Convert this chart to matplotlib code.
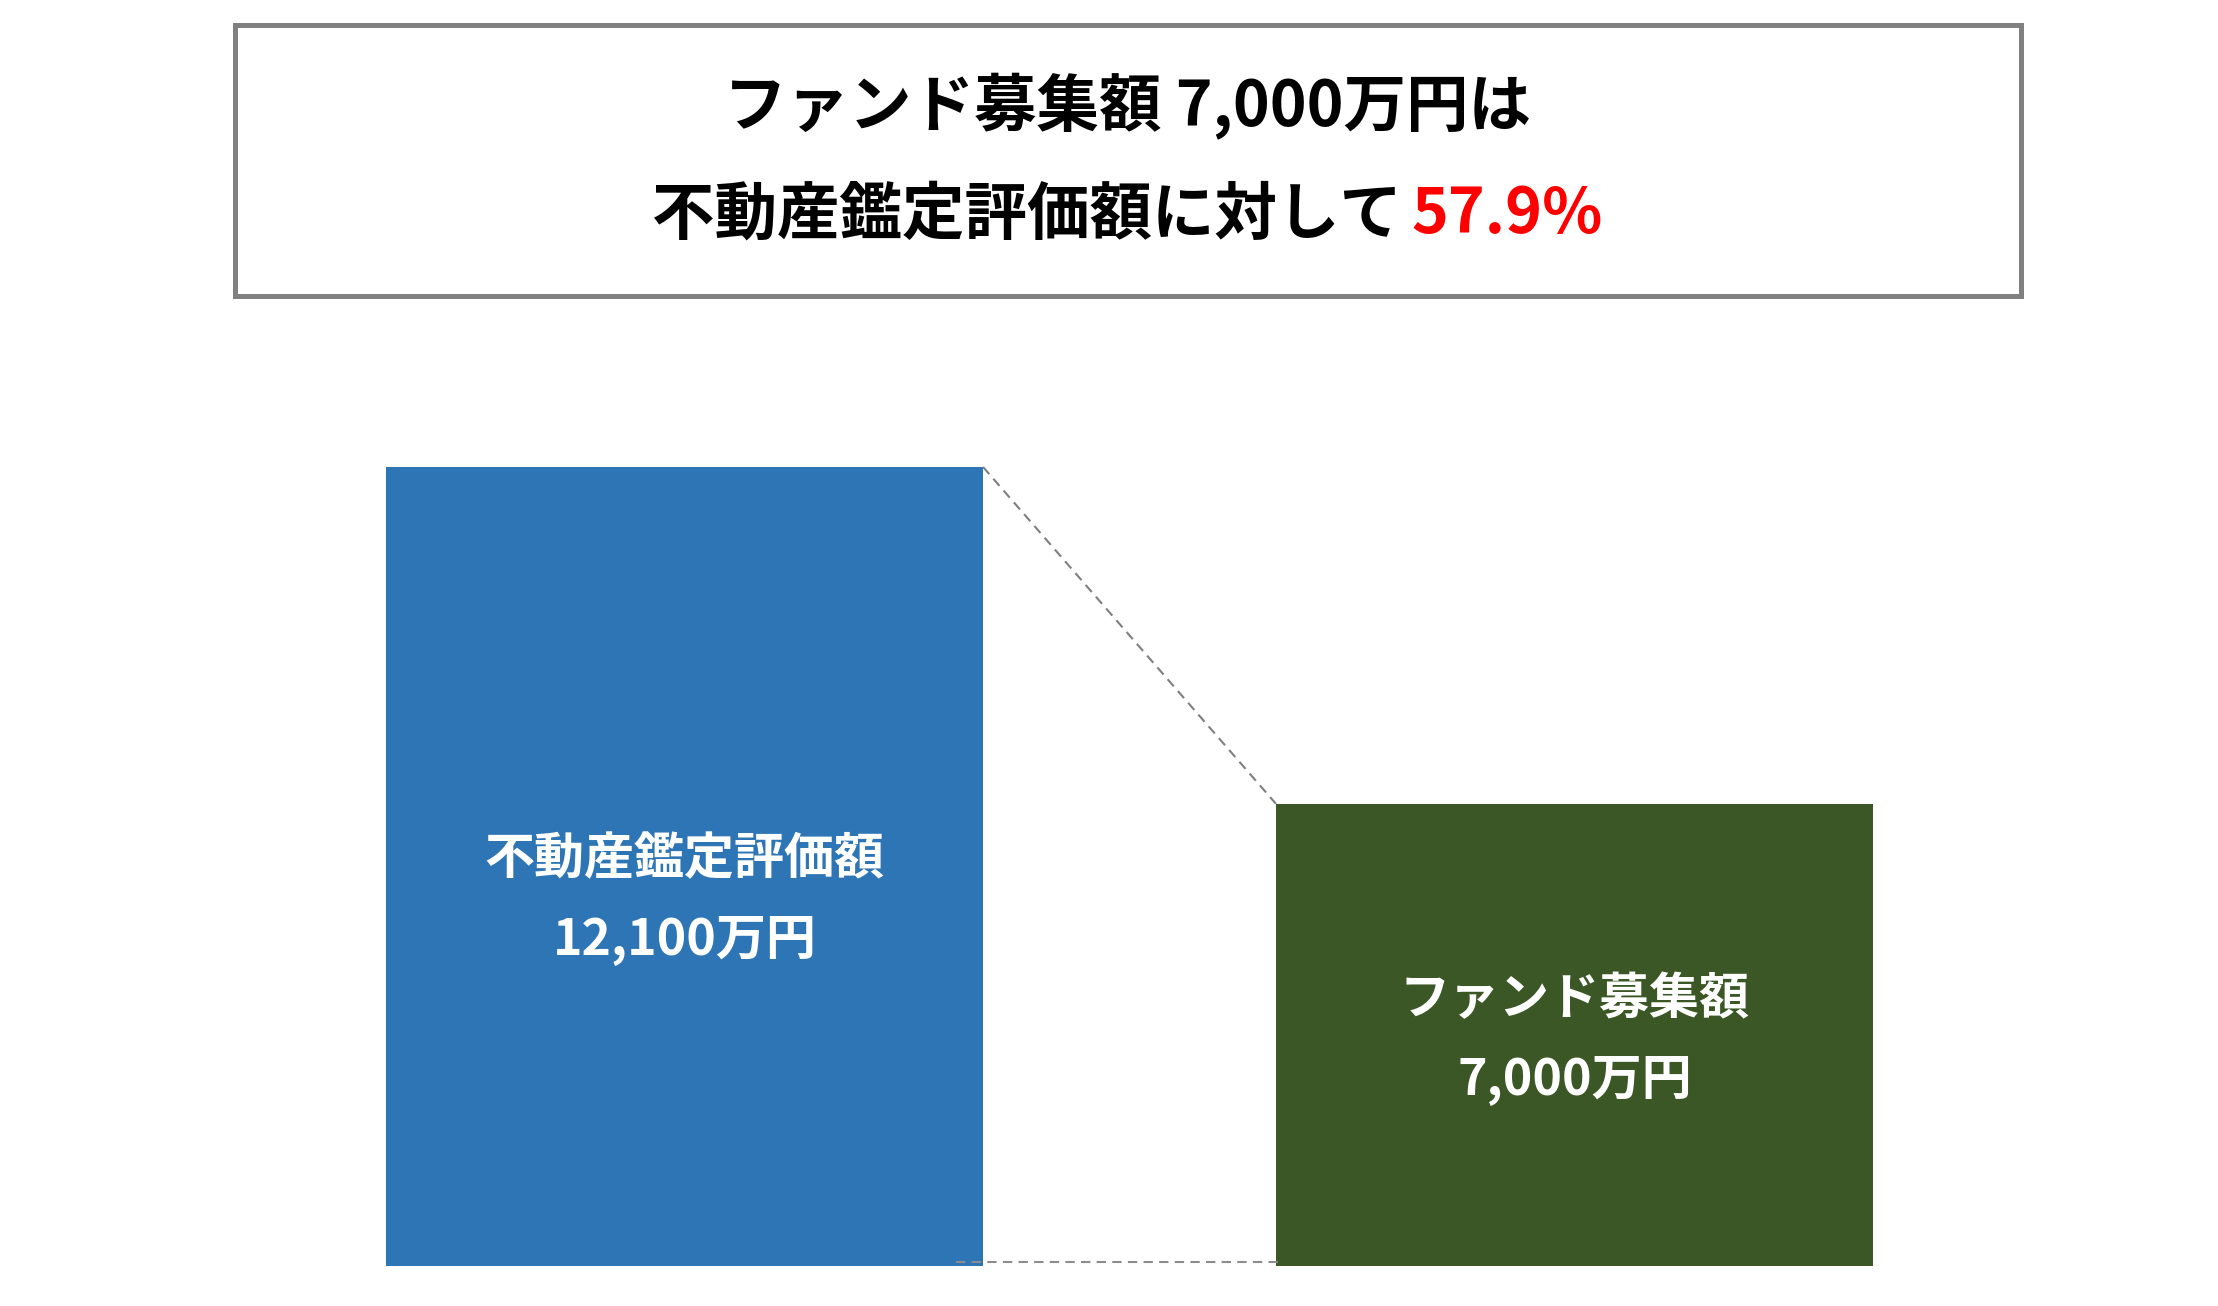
import matplotlib
matplotlib.use("Agg")
import matplotlib.pyplot as plt
from matplotlib.patches import Rectangle

plt.rcParams['font.family'] = ['Noto Sans CJK JP', 'DejaVu Sans']

# data
labels = ["不動産鑑定評価額", "ファンド募集額"]
values = [12100, 7000]
value_labels = ["12,100万円", "7,000万円"]
colors = ["#2E75B6", "#3B5725"]
title_line1 = "ファンド募集額 7,000万円は"
title_line2 = "不動産鑑定評価額に対して"
ratio_text = "57.9%"

W, H = 2218, 1306
fig = plt.figure(figsize=(W / 100, H / 100), dpi=100)

# bars - y=0 sits at pixel 1266 from top
bottom_px = 1266
ymax = values[0] / 799 * bottom_px
ax = fig.add_axes([0, (H - bottom_px) / H, 1, bottom_px / H])
x = [0, 1]
w = 0.671
ax.bar(x, values, width=w, color=colors, zorder=2)
ax.set_xlim(-684.5 / 890, (W - 684.5) / 890)
ax.set_ylim(0, ymax)
ax.axis("off")

# connector lines
ax.plot([x[0] + w / 2, x[1] - w / 2], [values[0], values[1]],
        color="#7F7F7F", lw=1.5, dashes=(4.5, 3), zorder=3)
ax.plot([x[0] + w / 2 - 0.03, x[1] - w / 2 + 0.007], [60, 60],
        color="#8C8C8C", lw=1.5, dashes=(4.5, 3), zorder=3)

# labels inside bars
mids = [values[0] * 0.4584, values[1] * 0.4894]
for xi, mid, lab, vlab in zip(x, mids, labels, value_labels):
    ax.annotate(lab, (xi, mid), xytext=(0, 29), textcoords="offset points",
                ha="center", va="center", color="white", fontsize=36,
                fontweight="bold")
    ax.annotate(vlab, (xi, mid), xytext=(0, -29), textcoords="offset points",
                ha="center", va="center", color="white", fontsize=36,
                fontweight="bold")

# title box
fig.add_artist(Rectangle((234.5 / W, 1 - 295.5 / H), (2020.5 - 234.5) / W,
                         (295.5 - 24.5) / H, transform=fig.transFigure,
                         fill=False, edgecolor="#808080", lw=3.6))
cx = 1127.5 / W
fig.text(cx, 1 - 106 / H, title_line1, ha="center", va="center",
         fontsize=45, fontweight="bold", color="black")
t1 = fig.text(0, 1 - 215 / H, title_line2, ha="left", va="center",
              fontsize=45, fontweight="bold", color="black")
t2 = fig.text(0, 1 - 215 / H, ratio_text, ha="left", va="center",
              fontsize=45, fontweight="bold", color="#FF0000")
r = fig.canvas.get_renderer()
w1 = t1.get_window_extent(r).width
w2 = t2.get_window_extent(r).width
gap = 10
left = 1127.5 - (w1 + gap + w2) / 2
t1.set_x(left / W)
t2.set_x((left + w1 + gap) / W)

fig.savefig("out.png", dpi=100, facecolor="white")
